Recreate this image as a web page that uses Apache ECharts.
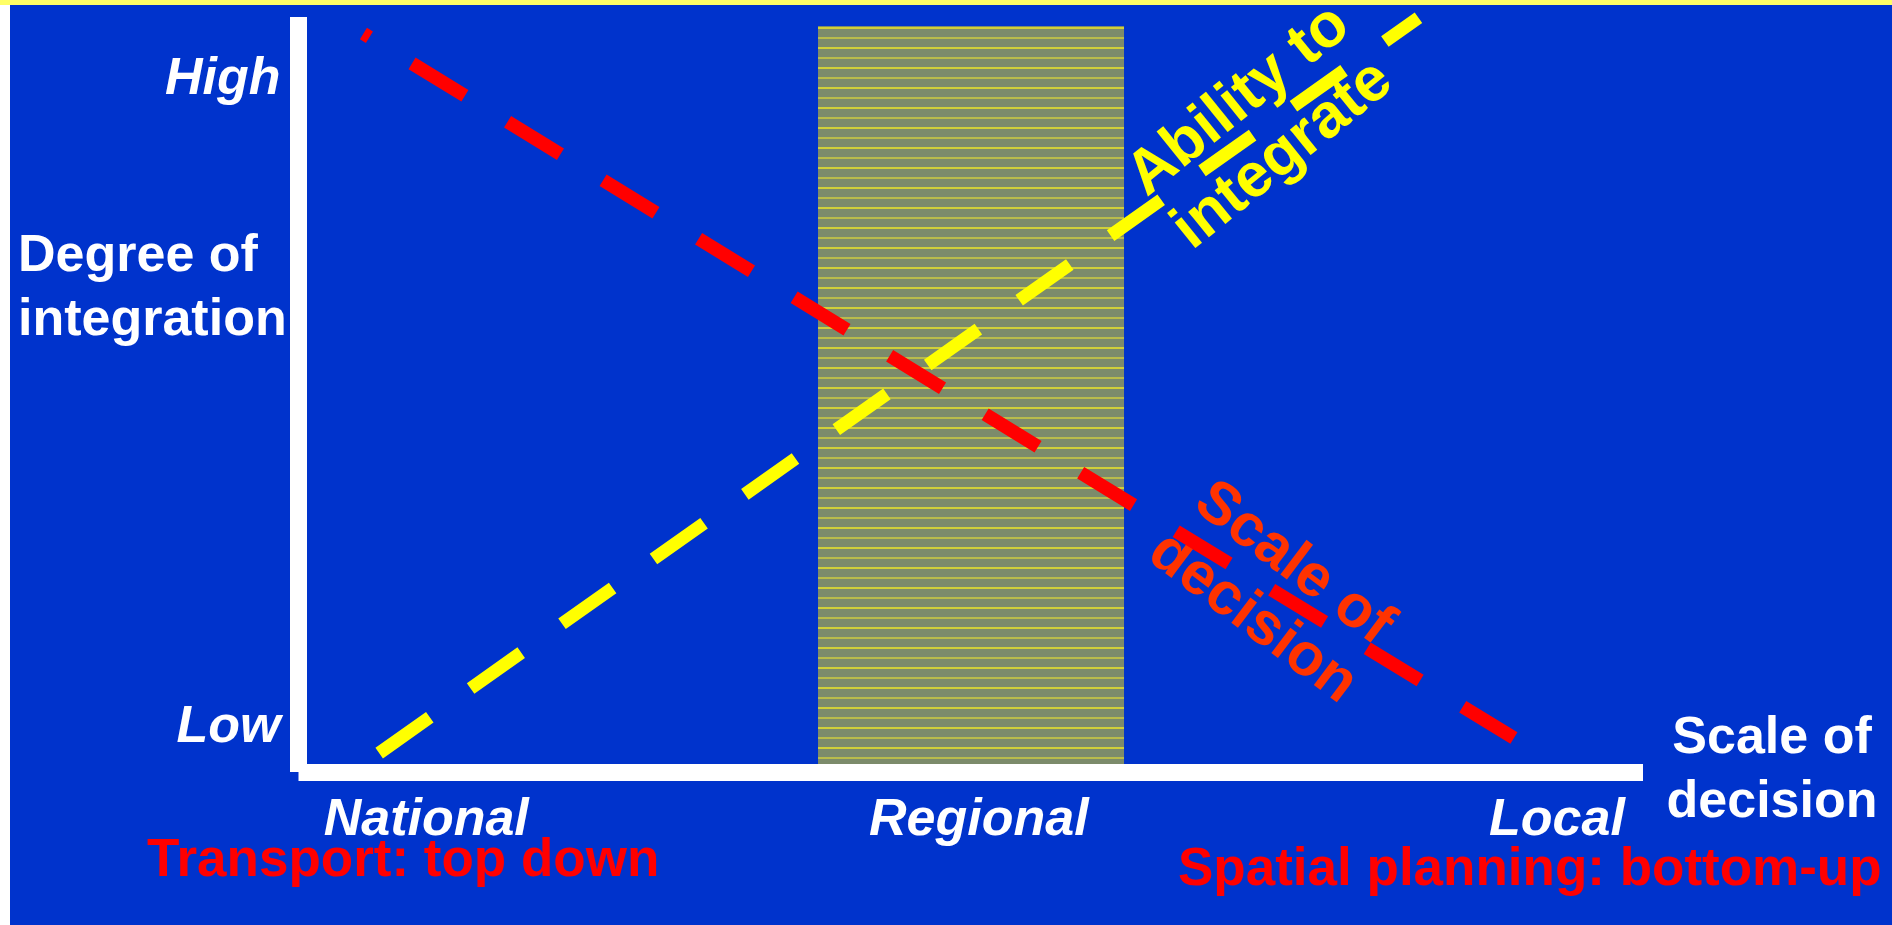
<!DOCTYPE html>
<html>
<head>
<meta charset="utf-8">
<script src="https://cdn.jsdelivr.net/npm/echarts@6/dist/echarts.min.js"></script>
<style>
  html, body { margin: 0; padding: 0; background: #0033CC; }
  #chart { width: 1892px; height: 925px; }
</style>
</head>
<body>
<div id="chart"></div>
<script>
// Axis units: x runs 0 (national) .. 100 (local); y runs 0 (low) .. 100 (high)
const xTickLabels = ['National', 'Regional', 'Local'];
const xTickValues = [9.5, 50.6, 93.6];
const yTickLabels = ['Low', 'High'];
const yTickValues = [5.9, 91.7];

// Scale of decision: falls from top-left to bottom-right
const scaleOfDecision = [[4.83, 97.8], [90.4, 4.5]];
// Ability to integrate: rises from bottom-left to top-right
const abilityToIntegrate = [[6.0, 2.5], [83.3, 99.9]];

// Regional band (x range, top)
const regionalBand = [38.64, 61.4];
const regionalBandTop = 98.8;

const FONT = '"Liberation Sans", Arial, sans-serif';

function lookup(values, labels) {
  return function (v) {
    for (let i = 0; i < values.length; i++) {
      if (Math.abs(values[i] - v) < 1e-6) return labels[i];
    }
    return '';
  };
}

// Olive fill with thin horizontal yellow rules
function hatchPattern() {
  const c = document.createElement('canvas');
  c.width = 4; c.height = 20;
  const g = c.getContext('2d');
  g.fillStyle = '#7C8B6B';
  g.fillRect(0, 0, 4, 20);
  g.fillStyle = '#D0D03A';
  g.fillRect(0, 7, 4, 2);
  g.fillStyle = '#B9BC4C';
  g.fillRect(0, 17, 4, 2);
  return c;
}

const chart = echarts.init(document.getElementById('chart'), null, { renderer: 'canvas' });

const axisLine = { show: true, lineStyle: { color: '#FFFFFF', width: 17, cap: 'butt' } };

const option = {
  backgroundColor: '#0033CC',
  animation: false,
  grid: { left: 298.5, right: 249, top: 17, bottom: 153 },
  xAxis: {
    type: 'value', min: 0, max: 100, z: 5,
    axisLine: axisLine,
    axisTick: { show: false },
    splitLine: { show: false },
    axisLabel: {
      customValues: xTickValues,
      formatter: lookup(xTickValues, xTickLabels),
      color: '#FFFFFF', fontFamily: FONT, fontSize: 52,
      fontWeight: 'bold', fontStyle: 'italic', margin: 23
    }
  },
  yAxis: {
    type: 'value', min: 0, max: 100, z: 5,
    axisLine: axisLine,
    axisTick: { show: false },
    splitLine: { show: false },
    axisLabel: {
      customValues: yTickValues,
      formatter: lookup(yTickValues, yTickLabels),
      color: '#FFFFFF', fontFamily: FONT, fontSize: 52,
      fontWeight: 'bold', fontStyle: 'italic', margin: 18
    }
  },
  series: [
    {
      type: 'line', z: 1, data: [], silent: true,
      markArea: {
        silent: true,
        itemStyle: { color: { image: hatchPattern(), repeat: 'repeat' } },
        data: [[
          { xAxis: regionalBand[0], yAxis: 0 },
          { xAxis: regionalBand[1], yAxis: regionalBandTop }
        ]]
      }
    },
    {
      name: 'Scale of decision', type: 'line', z: 3,
      data: scaleOfDecision, symbol: 'none', clip: false,
      lineStyle: { color: '#FF0000', width: 13.5, type: [62, 50], dashOffset: 55, cap: 'butt' }
    },
    {
      name: 'Ability to integrate', type: 'line', z: 4,
      data: abilityToIntegrate, symbol: 'none', clip: false,
      lineStyle: { color: '#FFFF00', width: 13, type: [62, 50], dashOffset: 0, cap: 'butt' }
    }
  ],
  graphic: [
    { type: 'rect', z: 9, shape: { x: 0, y: 0, width: 10, height: 925 }, style: { fill: '#FFFFFF' } },
    { type: 'rect', z: 10, shape: { x: 0, y: 0, width: 1892, height: 5 }, style: { fill: '#FFFF66' } },
    {
      type: 'text', z: 6, x: 18, y: 289,
      style: { text: 'Degree of\nintegration', fill: '#FFFFFF', fontFamily: FONT, fontSize: 52,
               fontWeight: 'bold', align: 'left', verticalAlign: 'middle', lineHeight: 64 }
    },
    {
      type: 'text', z: 6, x: 1772, y: 771,
      style: { text: 'Scale of\ndecision', fill: '#FFFFFF', fontFamily: FONT, fontSize: 52,
               fontWeight: 'bold', align: 'center', verticalAlign: 'middle', lineHeight: 64 }
    },
    {
      type: 'text', z: 6, x: 147, y: 861,
      style: { text: 'Transport: top down', fill: '#FF0000', fontFamily: FONT, fontSize: 53,
               fontWeight: 'bold', align: 'left', verticalAlign: 'middle' }
    },
    {
      type: 'text', z: 6, x: 1178, y: 870,
      style: { text: 'Spatial planning: bottom-up', fill: '#FF0000', fontFamily: FONT, fontSize: 53,
               fontWeight: 'bold', align: 'left', verticalAlign: 'middle' }
    },
    {
      type: 'text', z: 2, x: 1261, y: 128, rotation: 39 * Math.PI / 180,
      style: { text: 'Ability to\nintegrate', fill: '#FFFF00', fontFamily: FONT, fontSize: 62,
               fontWeight: 'bold', align: 'center', verticalAlign: 'middle', lineHeight: 70 }
    },
    {
      type: 'text', z: 2, x: 1273, y: 591, rotation: -37 * Math.PI / 180,
      style: { text: 'Scale of\ndecision', fill: '#FF3300', fontFamily: FONT, fontSize: 60,
               fontWeight: 'bold', align: 'center', verticalAlign: 'middle', lineHeight: 68 }
    }
  ]
};

chart.setOption(option);
</script>
</body>
</html>
